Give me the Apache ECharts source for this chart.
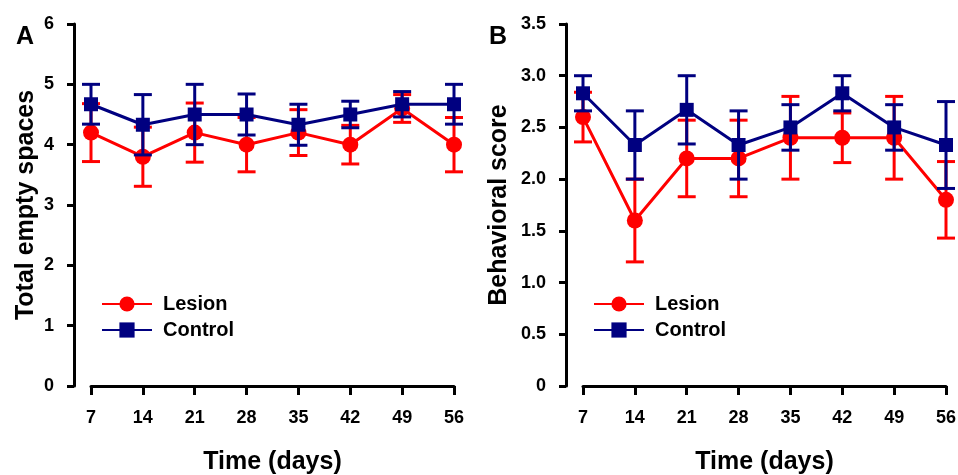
<!DOCTYPE html>
<html>
<head>
<meta charset="utf-8">
<script src="https://cdn.jsdelivr.net/npm/echarts@6/dist/echarts.min.js"></script>
<style>
html,body{margin:0;padding:0;background:#fff;}
#c{width:958px;height:475px;}
</style>
</head>
<body>
<div id="c"></div>
<script>
const days = [7, 14, 21, 28, 35, 42, 49, 56];
// Panel A: Total empty spaces
const lesionA    = [4.2, 3.8, 4.2, 4.0, 4.2, 4.0, 4.6, 4.0];
const lesionAErr = [0.48, 0.49, 0.49, 0.45, 0.38, 0.32, 0.23, 0.45];
const controlA    = [4.67, 4.33, 4.5, 4.5, 4.33, 4.5, 4.67, 4.67];
const controlAErr = [0.33, 0.5, 0.5, 0.34, 0.34, 0.22, 0.21, 0.33];
// Panel B: Behavioral score
const lesionB    = [2.6, 1.6, 2.2, 2.2, 2.4, 2.4, 2.4, 1.8];
const lesionBErr = [0.24, 0.4, 0.37, 0.37, 0.4, 0.24, 0.4, 0.37];
const controlB    = [2.83, 2.33, 2.67, 2.33, 2.5, 2.83, 2.5, 2.33];
const controlBErr = [0.17, 0.33, 0.33, 0.33, 0.22, 0.17, 0.22, 0.42];

const RED = '#ff0000';
const NAVY = '#000080';
const FONT = '"Liberation Sans", Arial, sans-serif';

function pts(vals){ return days.map((d,i)=>[d, vals[i]]); }
function errPts(vals, errs){ return days.map((d,i)=>[d, vals[i], errs[i]]); }

function errSeries(name, vals, errs, color, idx, z){
  return {
    type: 'custom', name: name, xAxisIndex: idx, yAxisIndex: idx, z: z,
    data: errPts(vals, errs),
    encode: {x: 0, y: 1},
    silent: true,
    renderItem: function(params, api){
      const x = api.value(0), y = api.value(1), e = api.value(2);
      const top = api.coord([x, y + e]);
      const bot = api.coord([x, y - e]);
      const h = 9;
      const st = {stroke: color, lineWidth: 3};
      return {type: 'group', children: [
        {type: 'line', shape: {x1: top[0], y1: top[1], x2: bot[0], y2: bot[1]}, style: st},
        {type: 'line', shape: {x1: top[0]-h, y1: top[1], x2: top[0]+h, y2: top[1]}, style: st},
        {type: 'line', shape: {x1: bot[0]-h, y1: bot[1], x2: bot[0]+h, y2: bot[1]}, style: st}
      ]};
    }
  };
}
function lineSeries(name, vals, color, symbol, size, idx, z){
  return {
    type: 'line', name: name, xAxisIndex: idx, yAxisIndex: idx, z: z,
    data: pts(vals), symbol: symbol, symbolSize: size, showSymbol: true,
    lineStyle: {color: color, width: 3},
    itemStyle: {color: color},
    emphasis: {disabled: true}
  };
}

function xAxis(idx){
  return {
    type: 'value', gridIndex: idx, min: 7, max: 56, interval: 7,
    splitLine: {show: false},
    axisLine: {show: true, lineStyle: {color: '#000', width: 3}},
    axisTick: {show: true, length: 9, lineStyle: {color: '#000', width: 3}},
    axisLabel: {margin: 23, color: '#000', fontSize: 18, fontWeight: 'bold', fontFamily: FONT},
    name: 'Time (days)', nameLocation: 'middle', nameGap: 64,
    nameTextStyle: {color: '#000', fontSize: 25, fontWeight: 'bold', fontFamily: FONT}
  };
}
function yAxis(idx, max, interval, name, gap, fmt){
  return {
    type: 'value', gridIndex: idx, min: 0, max: max, interval: interval, offset: 17,
    splitLine: {show: false},
    axisLine: {show: true, lineStyle: {color: '#000', width: 3}},
    axisTick: {show: true, length: 7, lineStyle: {color: '#000', width: 3}},
    axisLabel: {margin: 20, color: '#000', fontSize: 18, fontWeight: 'bold', fontFamily: FONT, formatter: fmt},
    name: name, nameLocation: 'middle', nameGap: gap, nameRotate: 90,
    nameTextStyle: {color: '#000', fontSize: 25, fontWeight: 'bold', fontFamily: FONT}
  };
}
function legend(left){
  return {
    orient: 'vertical', left: left, top: 289, itemWidth: 50, itemHeight: 19, itemGap: 6,
    data: ['Lesion', 'Control'], selectedMode: false,
    textStyle: {color: '#000', fontSize: 20, fontWeight: 'bold', fontFamily: FONT, padding: [0,0,0,6], lineHeight: 19}
  };
}

const chart = echarts.init(document.getElementById('c'), null, {renderer: 'canvas'});
chart.setOption({
  animation: false,
  backgroundColor: '#fff',
  title: [
    {text: 'A', left: 11, top: 20, textStyle: {color: '#000', fontSize: 25, fontWeight: 'bold', fontFamily: FONT}},
    {text: 'B', left: 484, top: 20, textStyle: {color: '#000', fontSize: 25, fontWeight: 'bold', fontFamily: FONT}}
  ],
  grid: [
    {left: 91, width: 363, top: 24, height: 362, containLabel: false, outerBoundsMode: 'none'},
    {left: 583, width: 363, top: 24, height: 362, containLabel: false, outerBoundsMode: 'none'}
  ],
  xAxis: [xAxis(0), xAxis(1)],
  yAxis: [
    yAxis(0, 6, 1, 'Total empty spaces', 35, v => String(v)),
    yAxis(1, 3.5, 0.5, 'Behavioral score', 54, v => v === 0 ? '0' : v.toFixed(1))
  ],
  legend: [legend(96), legend(588)],
  series: [
    errSeries('Lesion err A', lesionA, lesionAErr, RED, 0, 1),
    lineSeries('Lesion', lesionA, RED, 'circle', 16, 0, 2),
    errSeries('Control err A', controlA, controlAErr, NAVY, 0, 3),
    lineSeries('Control', controlA, NAVY, 'rect', 14, 0, 4),
    errSeries('Lesion err B', lesionB, lesionBErr, RED, 1, 1),
    lineSeries('Lesion', lesionB, RED, 'circle', 16, 1, 2),
    errSeries('Control err B', controlB, controlBErr, NAVY, 1, 3),
    lineSeries('Control', controlB, NAVY, 'rect', 14, 1, 4)
  ]
});
</script>
</body>
</html>
